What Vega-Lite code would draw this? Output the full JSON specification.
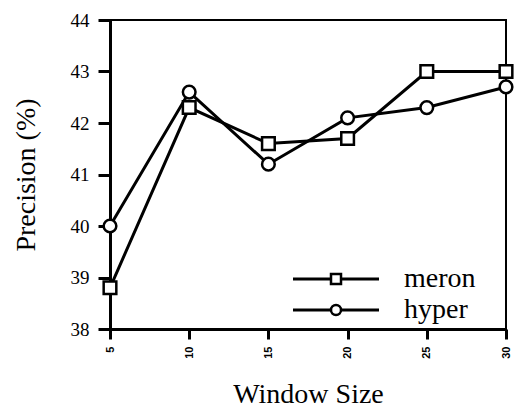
{
  "$schema": "https://vega.github.io/schema/vega-lite/v6.json",
  "autosize": "none",
  "padding": {"left": 110, "top": 20, "right": 9, "bottom": 87},
  "width": 396,
  "height": 309,
  "background": "white",
  "config": {
    "view": {"stroke": "black", "strokeWidth": 2},
    "font": "Liberation Serif"
  },
  "data": {
    "values": [
      {"window": 5, "series": "meron", "precision": 38.8},
      {"window": 10, "series": "meron", "precision": 42.3},
      {"window": 15, "series": "meron", "precision": 41.6},
      {"window": 20, "series": "meron", "precision": 41.7},
      {"window": 25, "series": "meron", "precision": 43.0},
      {"window": 30, "series": "meron", "precision": 43.0},
      {"window": 5, "series": "hyper", "precision": 40.0},
      {"window": 10, "series": "hyper", "precision": 42.6},
      {"window": 15, "series": "hyper", "precision": 41.2},
      {"window": 20, "series": "hyper", "precision": 42.1},
      {"window": 25, "series": "hyper", "precision": 42.3},
      {"window": 30, "series": "hyper", "precision": 42.7}
    ]
  },
  "encoding": {
    "x": {
      "field": "window",
      "type": "quantitative",
      "scale": {"domain": [5, 30], "nice": false, "zero": false},
      "axis": {
        "title": "Window Size",
        "titleFont": "Liberation Serif",
        "titleFontSize": 28,
        "titleFontWeight": "normal",
        "titleColor": "black",
        "titlePadding": 22,
        "values": [5, 10, 15, 20, 25, 30],
        "labelAngle": 270,
        "labelAlign": "right",
        "labelBaseline": "middle",
        "labelFont": "Liberation Sans",
        "labelFontSize": 11,
        "labelFontWeight": "bold",
        "labelColor": "black",
        "labelPadding": 7,
        "tickSize": 10,
        "tickWidth": 3,
        "tickColor": "black",
        "domainColor": "black",
        "domainWidth": 3,
        "grid": false
      }
    },
    "y": {
      "field": "precision",
      "type": "quantitative",
      "scale": {"domain": [38, 44], "nice": false, "zero": false},
      "axis": {
        "title": "Precision (%)",
        "titleFont": "Liberation Serif",
        "titleFontSize": 28,
        "titleFontWeight": "normal",
        "titleColor": "black",
        "titlePadding": 30,
        "values": [38, 39, 40, 41, 42, 43, 44],
        "labelFont": "Liberation Serif",
        "labelFontSize": 19,
        "labelColor": "black",
        "labelPadding": 9,
        "tickSize": 12,
        "tickWidth": 3,
        "tickColor": "black",
        "domainColor": "black",
        "domainWidth": 3,
        "grid": false
      }
    }
  },
  "layer": [
    {
      "mark": {"type": "line", "strokeWidth": 3},
      "encoding": {
        "stroke": {
          "field": "series",
          "type": "nominal",
          "scale": {"domain": ["hyper", "meron"], "range": ["black", "black"]},
          "legend": {
            "title": null,
            "orient": "none",
            "legendX": 212,
            "legendY": 245,
            "symbolSize": 100,
            "symbolType": "M-8.6,0H-1M1,0H8.6",
            "symbolStrokeWidth": 3,
            "labelFont": "Liberation Serif",
            "labelFontSize": 28,
            "labelOpacity": 0,
            "labelOffset": 54,
            "rowPadding": 3
          }
        }
      }
    },
    {
      "mark": {"type": "point", "filled": false, "fill": "white", "fillOpacity": 1, "stroke": "black", "strokeWidth": 2.5, "opacity": 1, "size": 160},
      "encoding": {
        "shape": {
          "field": "series",
          "type": "nominal",
          "scale": {"domain": ["meron", "hyper"], "range": ["square", "circle"]},
          "legend": {
            "title": null,
            "orient": "none",
            "legendX": 212,
            "legendY": 245,
            "symbolSize": 100,
            "symbolStrokeWidth": 2.5,
            "labelFont": "Liberation Serif",
            "labelFontSize": 28,
            "labelColor": "black",
            "labelOffset": 54,
            "rowPadding": 3
          }
        }
      }
    }
  ]
}
